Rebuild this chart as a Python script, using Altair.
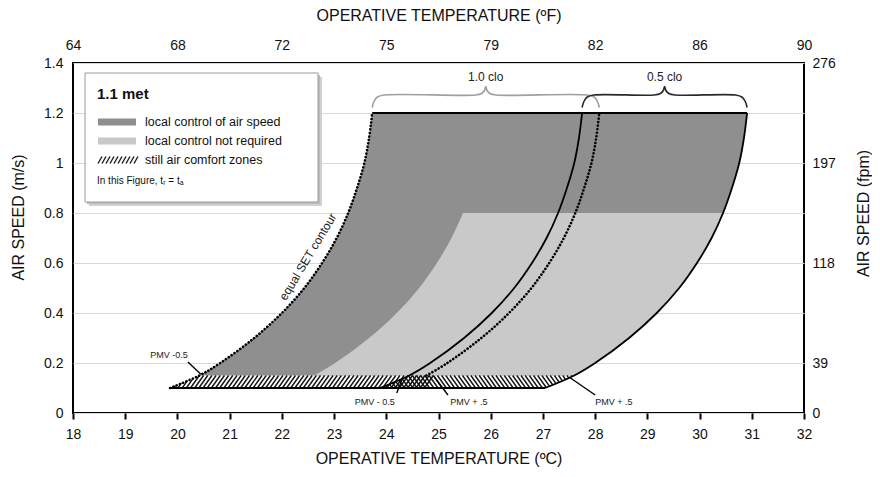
import altair as alt
import pandas as pd

FONT = "Liberation Sans"
DARK = "#8f8f8f"
LIGHT = "#c9c9c9"

# ---------------- values ----------------
speed = [0.15, 0.2, 0.3, 0.4, 0.5, 0.6, 0.7, 0.8, 0.9, 1.0, 1.1, 1.2]
set_contour_c = [20.42, 20.82, 21.47, 22.0, 22.43, 22.77, 23.05, 23.27, 23.44, 23.58, 23.67, 23.73]
pmv_minus_05clo_c = [24.44, 24.84, 25.49, 26.02, 26.45, 26.79, 27.07, 27.29, 27.46, 27.6, 27.69, 27.75]
pmv_plus_10clo_c = [24.77, 25.17, 25.82, 26.35, 26.78, 27.12, 27.4, 27.62, 27.79, 27.93, 28.02, 28.08]
pmv_plus_05clo_c = [27.6, 28.0, 28.65, 29.18, 29.61, 29.95, 30.23, 30.45, 30.62, 30.76, 30.85, 30.91]

ctrl_speed = [0.15, 0.2, 0.3, 0.4, 0.5, 0.6, 0.7, 0.8]
ctrl_edge_c = [22.62, 23.02, 23.67, 24.2, 24.63, 24.97, 25.25, 25.47]

still_air_speed = [0.1, 0.15]
still_10clo_left = [19.86, 20.42]
still_10clo_right = [24.8, 24.95]
still_05clo_left = [23.88, 24.44]
still_05clo_right = [27.04, 27.6]

x_ticks_c = list(range(18, 33))
top_ticks_c = [18, 20, 22, 24, 26, 28, 30, 32]
top_labels_f = ["64", "68", "72", "75", "79", "82", "86", "90"]
left_ticks = [0, 0.2, 0.4, 0.6, 0.8, 1.0, 1.2, 1.4]
right_ticks = [0, 0.2, 0.6, 1.0, 1.4]
right_labels_fpm = ["0", "39", "118", "197", "276"]

pmv_labels = ["PMV -0.5", "PMV - 0.5", "PMV + .5", "PMV + .5"]
pmv_label_x = [19.84, 23.78, 25.58, 28.36]
pmv_label_y = [0.232, 0.044, 0.044, 0.044]
pmv_ptr_x = [20.2, 24.2, 25.18, 28.0]
pmv_ptr_y = [0.204, 0.08, 0.072, 0.072]
pmv_ptr_x2 = [20.45, 24.3, 24.92, 27.5]
pmv_ptr_y2 = [0.155, 0.132, 0.145, 0.144]

brace_labels = ["1.0 clo", "0.5 clo"]
legend_labels = ["local control of air speed", "local control not required", "still air comfort zones"]

# ---------------- tables ----------------
xscale = alt.Scale(domain=[18, 32], nice=False, zero=False)
yscale = alt.Scale(domain=[0, 1.4], nice=False, zero=False)

dark_df = pd.DataFrame({"y": speed, "xl": set_contour_c, "xr": pmv_plus_05clo_c})
light_df = pd.DataFrame({"y": ctrl_speed, "xl": ctrl_edge_c,
                         "xr": pmv_plus_05clo_c[:len(ctrl_speed)]})


def curve(name, xs, ys):
    return pd.DataFrame({"curve": name, "x": xs, "y": ys, "i": range(len(xs))})


dotted_df = pd.concat([
    curve("set", [still_10clo_left[0]] + set_contour_c, [still_air_speed[0]] + speed),
    curve("p10", pmv_plus_10clo_c, speed),
])
solid_df = pd.concat([
    curve("m05", [still_05clo_left[0]] + pmv_minus_05clo_c, [still_air_speed[0]] + speed),
    curve("p05", [still_05clo_right[0]] + pmv_plus_05clo_c, [still_air_speed[0]] + speed),
])


def hatch(left, right, slant, step=0.08, d=0.17):
    Lb, Lt = left
    Rb, Rt = right
    y0, y1 = still_air_speed
    b = d if slant == "/" else -d
    rows = []
    a = min(Lb, Lt) - d - step
    while a < max(Rb, Rt) + d + step:
        t0, t1 = 0.0, 1.0
        for c0, c1 in [(a - Lb, b - (Lt - Lb)), (Rb - a, (Rt - Rb) - b)]:
            if abs(c1) < 1e-12:
                if c0 < 0:
                    t0, t1 = 1.0, 0.0
            elif c1 > 0:
                t0 = max(t0, -c0 / c1)
            else:
                t1 = min(t1, -c0 / c1)
        if t1 - t0 > 0.05:
            rows.append({"x": a + b * t0, "y": y0 + (y1 - y0) * t0,
                         "x2": a + b * t1, "y2": y0 + (y1 - y0) * t1})
        a += step
    return pd.DataFrame(rows)


hatch_df = pd.concat([
    hatch(still_10clo_left, still_10clo_right, "/"),
    hatch(still_05clo_left, still_05clo_right, "\\"),
])


def brace(xa, xb, name):
    m = (xa + xb) / 2
    ye, yh, yt = 1.222, 1.272, 1.306
    pts = [(xa, ye), (xa + 0.035, yh - 0.026), (xa + 0.1, yh - 0.008), (xa + 0.22, yh),
           (m - 0.2, yh), (m - 0.08, yh + 0.006), (m - 0.025, yh + 0.018), (m, yt),
           (m + 0.025, yh + 0.018), (m + 0.08, yh + 0.006), (m + 0.2, yh),
           (xb - 0.22, yh), (xb - 0.1, yh - 0.008), (xb - 0.035, yh - 0.026), (xb, ye)]
    return pd.DataFrame({"b": name, "x": [p[0] for p in pts], "y": [p[1] for p in pts],
                         "i": range(len(pts))})


brace_df = pd.concat([
    brace(set_contour_c[-1], pmv_plus_10clo_c[-1], brace_labels[0]),
    brace(pmv_minus_05clo_c[-1], pmv_plus_05clo_c[-1], brace_labels[1]),
])
brace_text_df = pd.DataFrame({
    "label": brace_labels,
    "x": [(set_contour_c[-1] + pmv_plus_10clo_c[-1]) / 2, (pmv_minus_05clo_c[-1] + pmv_plus_05clo_c[-1]) / 2],
    "y": [1.345, 1.345],
})

pmv_df = pd.DataFrame({"label": pmv_labels, "x": pmv_label_x, "y": pmv_label_y,
                       "px": pmv_ptr_x, "py": pmv_ptr_y, "px2": pmv_ptr_x2, "py2": pmv_ptr_y2})

top_df = pd.DataFrame({"x": [set_contour_c[-1]], "x2": [pmv_plus_05clo_c[-1]], "y": [speed[-1]]})
bottom_df = pd.DataFrame({"x": [still_10clo_left[0]], "x2": [still_05clo_right[0]], "y": [still_air_speed[0]]})
one = pd.DataFrame({"k": [0]})

# ---------------- axes ----------------
common = dict(labelFont=FONT, titleFont=FONT, labelColor="#111", titleColor="#111",
              titleFontWeight="normal", domain=False, labelFlush=False, labelOverlap=False)

bottom_axis = alt.Axis(orient="bottom", values=x_ticks_c, format="d",
                       title="OPERATIVE TEMPERATURE (ºC)", grid=False, ticks=True,
                       tickColor="black", tickWidth=2, tickSize=6, labelFontSize=14,
                       labelPadding=8, titleFontSize=16, titleY=45, titleBaseline="middle",
                       **common)
left_axis = alt.Axis(orient="left", values=left_ticks, format="~g", title="AIR SPEED (m/s)",
                     ticks=False, grid=True, gridColor="#d8d8d8", gridWidth=1,
                     labelFontSize=14, labelPadding=10, titleFontSize=16, titleAngle=270,
                     titleX=-55, titleY=154, titleAlign="center", titleBaseline="middle",
                     **common)
top_expr = "[" + ",".join("'%s'" % s for s in top_labels_f) + "][indexof([" + \
    ",".join(str(v) for v in top_ticks_c) + "], datum.value)]"
top_axis = alt.Axis(orient="top", values=top_ticks_c, labelExpr=top_expr,
                    title="OPERATIVE TEMPERATURE (ºF)", grid=False, ticks=False,
                    labelFontSize=14, labelPadding=11, titleFontSize=16, titleY=-48,
                    titleBaseline="middle", **common)
right_expr = "[" + ",".join("'%s'" % s for s in right_labels_fpm) + "][indexof([" + \
    ",".join(str(v) for v in right_ticks) + "], datum.value)]"
right_axis = alt.Axis(orient="right", values=right_ticks, labelExpr=right_expr,
                      title="AIR SPEED (fpm)", grid=False, ticks=False, labelFontSize=14,
                      labelPadding=8, titleFontSize=16, titleAngle=270, titleX=59, titleY=150,
                      titleAlign="center", titleBaseline="middle", **common)

# ---------------- layers ----------------
dark = alt.Chart(dark_df).mark_area(orient="horizontal", interpolate="catmull-rom", color=DARK).encode(
    y=alt.Y("y:Q", scale=yscale, axis=left_axis),
    x=alt.X("xl:Q", scale=xscale, axis=bottom_axis),
    x2="xr:Q",
)
light = alt.Chart(light_df).mark_area(orient="horizontal", interpolate="catmull-rom", color=LIGHT).encode(
    y=alt.Y("y:Q", scale=yscale, axis=None),
    x=alt.X("xl:Q", scale=xscale, axis=None),
    x2="xr:Q",
)
hatch_layer = alt.Chart(hatch_df).mark_rule(color="#111", strokeWidth=1.4).encode(
    x=alt.X("x:Q", scale=xscale, axis=None), x2="x2:Q",
    y=alt.Y("y:Q", scale=yscale, axis=None), y2="y2:Q",
)
band_bottom = alt.Chart(bottom_df).mark_rule(color="black", strokeWidth=2.2).encode(
    x=alt.X("x:Q", scale=xscale, axis=None), x2="x2:Q",
    y=alt.Y("y:Q", scale=yscale, axis=None),
)
dotted = alt.Chart(dotted_df).mark_line(color="black", strokeWidth=2.6, strokeDash=[0.1, 3.4],
                                        strokeCap="round", interpolate="catmull-rom").encode(
    x=alt.X("x:Q", scale=xscale, axis=None), y=alt.Y("y:Q", scale=yscale, axis=None),
    detail="curve:N", order="i:Q",
)
solid = alt.Chart(solid_df).mark_line(color="black", strokeWidth=1.8, interpolate="catmull-rom").encode(
    x=alt.X("x:Q", scale=xscale, axis=None), y=alt.Y("y:Q", scale=yscale, axis=None),
    detail="curve:N", order="i:Q",
)
top_edge = alt.Chart(top_df).mark_rule(color="black", strokeWidth=2).encode(
    x=alt.X("x:Q", scale=xscale, axis=top_axis), x2="x2:Q",
    y=alt.Y("y:Q", scale=yscale, axis=right_axis),
)
braces = alt.Chart(brace_df).mark_line(strokeWidth=1.6, interpolate="catmull-rom").encode(
    x=alt.X("x:Q", scale=xscale, axis=None), y=alt.Y("y:Q", scale=yscale, axis=None),
    detail="b:N", order="i:Q",
    color=alt.Color("b:N", scale=alt.Scale(domain=brace_labels, range=["#a0a0a0", "#2a2a2a"]), legend=None),
)
brace_text = alt.Chart(brace_text_df).mark_text(font=FONT, fontSize=12, color="#222").encode(
    x=alt.X("x:Q", scale=xscale, axis=None), y=alt.Y("y:Q", scale=yscale, axis=None), text="label:N",
)
pmv_ptr = alt.Chart(pmv_df).mark_rule(color="black", strokeWidth=1.4).encode(
    x=alt.X("px:Q", scale=xscale, axis=None), x2="px2:Q",
    y=alt.Y("py:Q", scale=yscale, axis=None), y2="py2:Q",
)
pmv_text = alt.Chart(pmv_df).mark_text(font=FONT, fontSize=9, color="#222").encode(
    x=alt.X("x:Q", scale=xscale, axis=None), y=alt.Y("y:Q", scale=yscale, axis=None), text="label:N",
)
set_text = alt.Chart(pd.DataFrame({"x": [22.5], "y": [0.625], "t": ["equal SET contour"]})).mark_text(
    font=FONT, fontSize=12, color="#222", angle=301, baseline="middle").encode(
    x=alt.X("x:Q", scale=xscale, axis=None), y=alt.Y("y:Q", scale=yscale, axis=None), text="t:N",
)

# ---------------- legend box (pixel positions inside the plot) ----------------
def box(x, x2, y, y2, **kw):
    return alt.Chart(one).mark_rect(**kw).encode(
        x=alt.value(x), x2=alt.value(x2), y=alt.value(y), y2=alt.value(y2))


def label(x, y, txt, **kw):
    return alt.Chart(one).mark_text(text=txt, font=FONT, align="left", baseline="middle",
                                    color="#111", **kw).encode(x=alt.value(x), y=alt.value(y))


leg_hatch = pd.DataFrame({"px": [25 + 4 * i for i in range(10)],
                          "px2": [29 + 4 * i for i in range(10)],
                          "py": [100.5] * 10, "py2": [93.5] * 10})
legend_layers = [
    box(16, 249, 14, 143, fill="#d0d0d0"),
    box(14, 247, 12, 141, fill="#bdbdbd"),
    box(12, 245, 10, 139, fill="white", stroke="#9a9a9a", strokeWidth=1),
    label(24, 31, "1.1 met", fontSize=15, fontWeight="bold"),
    box(25, 63, 55.5, 62.5, fill=DARK),
    box(25, 63, 74.5, 81.5, fill=LIGHT),
    alt.Chart(leg_hatch).mark_rule(color="#111", strokeWidth=1.3).encode(
        x=alt.X("px:Q", scale=None, axis=None), x2="px2:Q",
        y=alt.Y("py:Q", scale=None, axis=None), y2="py2:Q"),
    label(72, 59, legend_labels[0], fontSize=12.5),
    label(72, 78, legend_labels[1], fontSize=12.5),
    label(72, 97, legend_labels[2], fontSize=12.5),
    label(24, 118, "In this Figure, tᵣ = tₐ", fontSize=10),
]

chart = alt.layer(
    dark, light, hatch_layer, band_bottom, dotted, solid, top_edge, braces, brace_text,
    pmv_ptr, pmv_text, set_text, *legend_layers
).resolve_axis(x="independent", y="independent").properties(
    width=731, height=350,
    autosize=alt.AutoSizeParams(type="none"),
    padding={"left": 65, "top": 55, "right": 68, "bottom": 56},
).configure_view(stroke="black", strokeWidth=2)

chart.save("out.html", embed_options={"renderer": "svg", "actions": False})
